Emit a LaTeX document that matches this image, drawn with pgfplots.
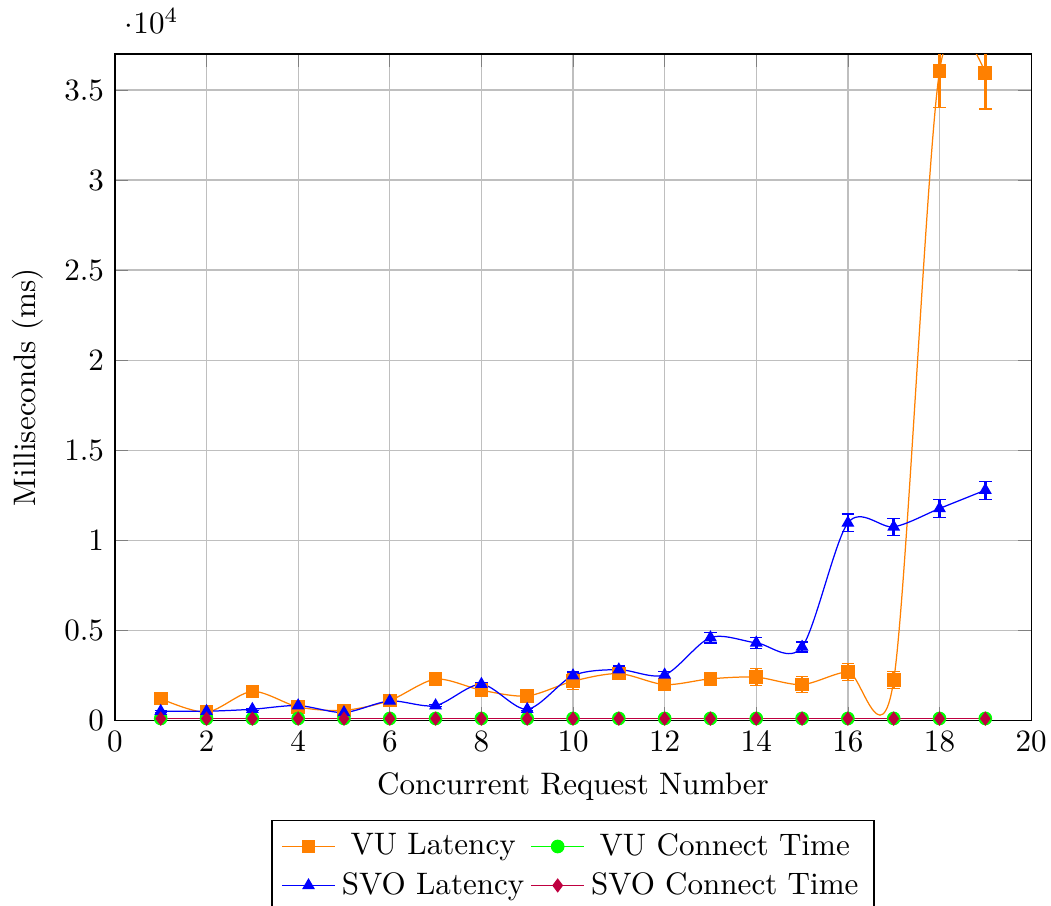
\documentclass[border=0pt]{standalone}
\usepackage{pgfplots}
\usepackage{pgfplotstable}
\pgfplotsset{compat=1.18}
\pgfplotstableread{
x y e
1 1200 100
2 450 100
3 1600 100
4 740 100
5 550 100
6 1100 100
7 2280 100
8 1670 100
9 1350 100
10 2170 450
11 2590 250
12 1980 200
13 2300 200
14 2390 480
15 1980 460
16 2690 470
17 2220 470
18 36050 2000
19 35950 2000
}\vulat
\pgfplotstableread{
x y e
1 500 50
2 500 50
3 610 50
4 815 50
5 430 50
6 1070 50
7 815 50
8 2000 100
9 610 50
10 2480 200
11 2810 200
12 2520 200
13 4590 300
14 4300 300
15 4070 280
16 10960 490
17 10740 470
18 11760 500
19 12780 500
}\svolat
\pgfplotstableread{
x y
1 100
2 100
3 100
4 100
5 100
6 100
7 100
8 100
9 100
10 100
11 100
12 100
13 100
14 100
15 100
16 100
17 100
18 100
19 100
}\vuconn
\pgfplotstableread{
x y
1 90
2 90
3 90
4 90
5 90
6 90
7 90
8 90
9 90
10 90
11 90
12 90
13 90
14 90
15 90
16 90
17 90
18 90
19 90
}\svoconn
\begin{document}
\begin{tikzpicture}
\begin{axis}[
  name=ax,
  scale only axis,
  width=295pt, height=214.5pt,
  xmin=0, xmax=20, ymin=0, ymax=37000,
  xtick={0,2,...,20},
  ytick={0,5000,10000,15000,20000,25000,30000,35000},
  grid=major,
  xlabel={Concurrent Request Number},
  ylabel={Milliseconds (ms)},
  legend columns=2,
  legend style={at={(0.5,-0.15)},anchor=north},
  error bars/error bar style={thick},
]
\addplot[orange, mark=square*, smooth, error bars/.cd, y dir=both, y explicit]
  table[x=x, y=y, y error=e] {\vulat};
\addlegendentry{VU Latency}
\addplot[green, mark=*, smooth] table[x=x, y=y] {\vuconn};
\addlegendentry{VU Connect Time}
\addplot[blue, mark=triangle*, smooth, error bars/.cd, y dir=both, y explicit]
  table[x=x, y=y, y error=e] {\svolat};
\addlegendentry{SVO Latency}
\addplot[purple, mark=diamond*, smooth] table[x=x, y=y] {\svoconn};
\addlegendentry{SVO Connect Time}
\end{axis}
\pgfresetboundingbox
\path[use as bounding box] ([shift={(-37pt,-59.6pt)}]ax.south west) rectangle ([shift={(6.4pt,17.4pt)}]ax.north east);
\end{tikzpicture}
\end{document}
